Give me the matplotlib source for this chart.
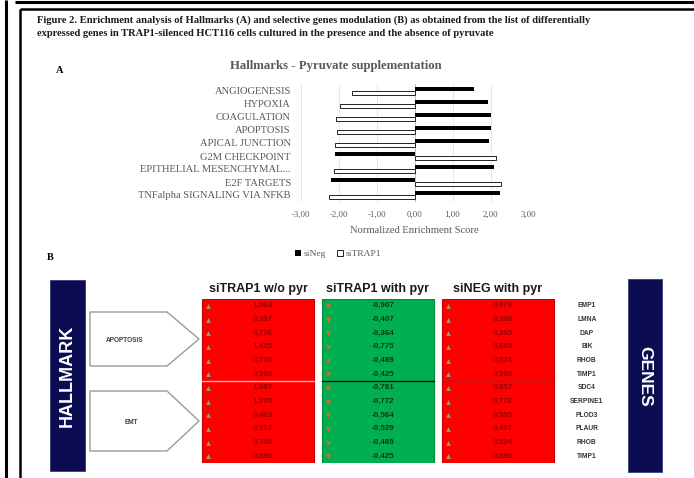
import matplotlib
matplotlib.use("Agg")
import matplotlib.pyplot as plt
from matplotlib.patches import Rectangle, Polygon
import numpy as np

# ---------------- data ----------------
hallmarks = ["ANGIOGENESIS", "HYPOXIA", "COAGULATION", "APOPTOSIS", "APICAL JUNCTION",
             "G2M CHECKPOINT", "EPITHELIAL MESENCHYMAL...", "E2F TARGETS",
             "TNFalpha SIGNALING VIA NFKB"]
nes_sineg = [1.57, 1.93, 2.02, 2.00, 1.96, -2.09, 2.10, -2.19, 2.25]
nes_sitrap1 = [-1.65, -1.97, -2.07, -2.04, -2.09, 2.15, -2.11, 2.28, -2.26]
nes_ticks = [-3, -2, -1, 0, 1, 2, 3]

conditions = ["siTRAP1 w/o pyr", "siTRAP1 with pyr", "siNEG with pyr"]
genes = ["EMP1", "LMNA", "DAP", "BIK", "RHOB", "TIMP1",
         "SDC4", "SERPINE1", "PLOD3", "PLAUR", "RHOB", "TIMP1"]
fc_sitrap1_wo_pyr = [1.083, 0.397, 0.776, 1.425, 0.730, 0.386,
                     1.087, 1.370, 0.463, 0.912, 0.730, 0.386]
fc_sitrap1_pyr = [-0.907, -0.407, -0.364, -0.775, -0.489, -0.425,
                  -0.781, -0.772, -0.564, -0.529, -0.489, -0.425]
fc_sineg_pyr = [0.979, 0.398, 0.365, 0.683, 0.524, 0.386,
                0.857, 0.772, 0.555, 0.497, 0.524, 0.386]
gene_sets = ["APOPTOSIS", "EMT"]

W, H = 694, 478
fig = plt.figure(figsize=(W / 100, H / 100), dpi=100)
fig.patch.set_facecolor("white")

SERIF = ["Liberation Serif", "DejaVu Serif"]
SANS = ["Liberation Sans", "DejaVu Sans"]


def px_axes(left, top, right, bottom, **kw):
    return fig.add_axes([left / W, 1 - bottom / H, (right - left) / W, (bottom - top) / H], **kw)


# overlay in pixel units for frame, captions and labels
ov = px_axes(0, 0, W, H, zorder=0)
ov.set_xlim(0, W)
ov.set_ylim(H, 0)
ov.axis("off")

# frame
ov.plot([6, 6], [0, H], color="black", lw=2.2, solid_capstyle="butt")
ov.plot([15, W], [1.5, 1.5], color="black", lw=2.2, solid_capstyle="butt")
ov.plot([20, 20], [9, H], color="black", lw=1.8, solid_capstyle="butt")
ov.plot([20, W], [9, 9], color="black", lw=1.8, solid_capstyle="butt")

cap1 = ("Figure 2. Enrichment analysis of Hallmarks (A) and selective genes modulation (B) "
        "as obtained from the list of differentially")
cap2 = ("expressed genes in TRAP1-silenced HCT116 cells cultured in the presence "
        "and the absence of pyruvate")
ov.text(37, 20, cap1, family=SERIF, fontsize=7.6, fontweight="bold", color="#1a1a1a", va="center")
ov.text(37, 33, cap2, family=SERIF, fontsize=7.6, fontweight="bold", color="#1a1a1a", va="center")

# ---------------- panel A ----------------
ov.text(60, 70, "A", family=SERIF, fontsize=7.5, fontweight="bold", va="center", ha="center")
ov.text(336, 66, "Hallmarks - Pyruvate supplementation", family=SERIF, fontsize=9.2,
        fontweight="bold", color="#595959", ha="center", va="center")

axA = px_axes(300.5, 84.5, 528.5, 201.5)
y = np.arange(len(hallmarks))
for t in nes_ticks:
    axA.axvline(t, color="#e3e3e3", lw=0.6, zorder=0)
axA.axvline(0, color="#bfbfbf", lw=0.8, zorder=1)
axA.barh(y - 0.15, nes_sineg, height=0.28, color="black", label="siNeg", zorder=2)
axA.barh(y + 0.15, nes_sitrap1, height=0.28, color="white", edgecolor="#222222",
         lw=0.7, label="siTRAP1", zorder=2)
axA.set_xlim(-3, 3)
axA.set_ylim(len(hallmarks) - 0.5, -0.5)
axA.set_yticks(y)
axA.set_yticklabels(hallmarks, family=SERIF, fontsize=7.6, color="#595959")
axA.set_xticks(nes_ticks)
axA.set_xticklabels([f"{t:.2f}".replace(".", ",") for t in nes_ticks],
                    family=SERIF, fontsize=6.3, color="#595959")
axA.tick_params(axis="both", length=0)
axA.tick_params(axis="y", pad=7)
axA.tick_params(axis="x", pad=7)
for s in axA.spines.values():
    s.set_visible(False)
axA.set_xlabel("Normalized Enrichment Score", family=SERIF, fontsize=7.6,
               color="#595959", labelpad=5)
leg = axA.legend(loc="center", bbox_to_anchor=(338 / W, 1 - 254 / H),
                 bbox_transform=fig.transFigure, ncol=2, frameon=False,
                 prop={"family": SERIF, "size": 6.8}, handlelength=0.6,
                 handleheight=0.6, handletextpad=0.3, columnspacing=1.2)
for t in leg.get_texts():
    t.set_color("#595959")

# ---------------- panel B ----------------
ov.text(50, 258, "B", family=SERIF, fontsize=7.5, fontweight="bold", va="center", ha="center")

navy = "#0c0c52"
ov.add_patch(Rectangle((50, 280), 35, 191, facecolor=navy, edgecolor="#3a3a7a", lw=0.6))
ov.text(67.5, 376, "HALLMARK", rotation=90, color="white", fontsize=13,
        fontweight="bold", family=SANS, ha="center", va="center")
ov.add_patch(Rectangle((628, 279), 34, 193, facecolor=navy, edgecolor="#3a3a7a", lw=0.6))
ov.text(645, 376, "GENES", rotation=-90, color="white", fontsize=12.5,
        fontweight="bold", family=SANS, ha="center", va="center")

arrow_rows = [(312, 366), (391, 451)]
label_x = [125, 131]
for name, (top, bot), lx in zip(gene_sets, arrow_rows, label_x):
    mid = (top + bot) / 2
    ov.add_patch(Polygon([(90, top), (167, top), (199, mid), (167, bot), (90, bot)],
                         closed=True, facecolor="white", edgecolor="#9a9a9a", lw=1.0))
    ov.text(lx, mid + 2, name, family=SANS, fontsize=4.7, fontweight="bold",
            color="#404040", ha="center", va="center")

axB = px_axes(198, 299, 558, 463)
axB.set_xlim(-0.5, 2.5)
axB.set_ylim(len(genes), 0)
axB.axis("off")

columns = [fc_sitrap1_wo_pyr, fc_sitrap1_pyr, fc_sineg_pyr]
half = 0.47
sep_colors = ["#e8b0b0", "#111111", "#8a2a2a"]
for j, (cond, vals) in enumerate(zip(conditions, columns)):
    up = vals[0] > 0
    face = "#ff0000" if up else "#00b050"
    edge = "#c00000" if up else "#008a3a"
    axB.add_patch(Rectangle((j - half, 0), 2 * half, len(vals), facecolor=face,
                            edgecolor=edge, lw=0.8))
    axB.plot([j - half, j + half], [len(vals) / 2] * 2, color=sep_colors[j], lw=1.0)
    txt_col = "#9a0000" if up else "#0b3a12"
    for i, v in enumerate(vals):
        axB.text(j + 0.04, i + 0.5, f"{v:.3f}".replace(".", ","), ha="center",
                 va="center", fontsize=5.8, family=SANS, color=txt_col, fontweight="bold")
        if v > 0:
            axB.plot(j - 0.42, i + 0.5, marker="^", ms=3.5, color="#8aa57a", mew=0)
        else:
            axB.plot(j - 0.42, i + 0.5, marker="v", ms=3.5, color="#e8622c", mew=0)
    axB.text(j, -0.7, cond, ha="center", va="center", fontsize=9, fontweight="bold",
             family=SANS, color="#1a1a1a")

for i, g in enumerate(genes):
    axB.text(2.74, i + 0.5, g, ha="center", va="center", fontsize=4.8, fontweight="bold",
             family=SANS, color="#333333", clip_on=False)

fig.savefig("out.png", dpi=100, facecolor="white")
